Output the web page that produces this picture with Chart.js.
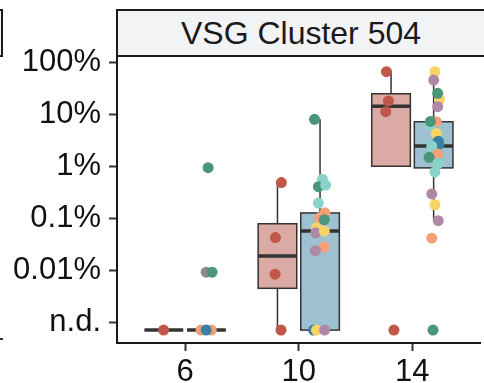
<!DOCTYPE html>
<html>
<head>
<meta charset="utf-8">
<script src="https://cdn.jsdelivr.net/npm/chart.js@4.4.1/dist/chart.umd.min.js"></script>
<style>
  html, body { margin: 0; padding: 0; background: #fff; overflow: hidden; }
  body { width: 484px; height: 383px; position: relative; font-family: "Liberation Sans", Arial, sans-serif; }
  #wrap { position: absolute; left: 0; top: 0; width: 486px; height: 383px; }
  .strip {
    position: absolute; left: 116px; top: 9px; width: 374px; height: 48px;
    box-sizing: border-box; border: 2px solid #1a1a1a; background: #f2f3f5;
    color: #1a1a1a; font-size: 32px; line-height: 44px; text-align: center;
    padding-right: 4px;
  }
  .strip-prev {
    position: absolute; left: -20px; top: 9px; width: 23px; height: 48px;
    box-sizing: border-box; border: 2px solid #1a1a1a; background: #f2f3f5;
  }
  .axis-prev { position: absolute; left: 0; top: 338px; width: 3px; height: 2px; background: #333; }
</style>
</head>
<body>
<div class="strip-prev"></div>
<div class="axis-prev"></div>
<div id="wrap"><canvas id="chart" width="486" height="383"></canvas></div>
<div class="strip">VSG Cluster 504</div>
<script>
const days = ['6', '10', '14'];
const yTickValues = [0.001, 0.01, 0.1, 1, 10, 100];
const yTickLabels = ['n.d.', '0.01%', '0.1%', '1%', '10%', '100%'];
const ND = 0.0007; // where undetected samples sit on the log axis

// box summaries per day (percent): whisker low, q1, median, q3, whisker high
const lowA = [ND, ND, null];
const q1A = [ND, 0.00445, 0.99];
const medA = [ND, 0.0186, 14.1];
const q3A = [ND, 0.0776, 24.5];
const highA = [ND, 0.48, 65];

const lowB = [ND, ND, 0.089];
const q1B = [ND, ND, 0.92];
const medB = [ND, 0.056, 2.43];
const q3B = [ND, 0.125, 7.1];
const highB = [ND, 7.9, 65];

// individual samples: [day index, jitter, value]
const pointsA = [
  [0, -0.19, ND],
  [1, -0.153, 0.48], [1, -0.205, 0.042], [1, -0.208, 0.0083], [1, -0.156, ND],
  [2, -0.228, 65], [2, -0.211, 17.8], [2, -0.234, 11.1], [2, -0.162, ND],
];

// [day index, jitter, value, colour]
const pointsB = [
  [0, 0.202, 0.93, 'green'], [0, 0.185, 0.0091, 'grey'], [0, 0.237, 0.0091, 'green'],
  [0, 0.14, ND, 'orange'], [0, 0.23, ND, 'orange'], [0, 0.185, ND, 'blue'],

  [1, 0.139, 7.9, 'green'], [1, 0.208, 0.555, 'teal'], [1, 0.173, 0.40, 'green'],
  [1, 0.237, 0.431, 'teal'], [1, 0.173, 0.194, 'teal'], [1, 0.231, 0.126, 'orange'],
  [1, 0.185, 0.101, 'orange'], [1, 0.225, 0.093, 'green'], [1, 0.156, 0.065, 'yellow'],
  [1, 0.15, 0.052, 'purple'], [1, 0.225, 0.056, 'yellow'], [1, 0.225, 0.0277, 'orange'],
  [1, 0.147, 0.0235, 'purple'],
  [1, 0.13, ND, 'blue'], [1, 0.156, ND, 'yellow'], [1, 0.228, ND, 'purple'],

  [2, 0.199, 65, 'yellow'], [2, 0.188, 45, 'purple'], [2, 0.24, 19.2, 'yellow'],
  [2, 0.223, 25, 'green'], [2, 0.223, 13.8, 'purple'], [2, 0.211, 7.1, 'orange'],
  [2, 0.153, 6.2, 'teal'], [2, 0.159, 7.2, 'green'], [2, 0.211, 4.2, 'yellow'],
  [2, 0.234, 2.6, 'blue'], [2, 0.228, 3.0, 'blue'], [2, 0.171, 2.4, 'teal'],
  [2, 0.223, 1.7, 'orange'], [2, 0.147, 1.47, 'green'], [2, 0.228, 1.13, 'teal'],
  [2, 0.199, 0.77, 'teal'], [2, 0.171, 0.29, 'purple'], [2, 0.199, 0.18, 'yellow'],
  [2, 0.228, 0.089, 'purple'], [2, 0.171, 0.041, 'orange'], [2, 0.182, ND, 'green'],
];

const palette = {
  red: '#c0574a', green: '#4a9679', teal: '#8ad3ca', orange: '#f4a077',
  yellow: '#f8d465', purple: '#ad89a6', blue: '#3b80a2', grey: '#8c8c8c',
};

const boxes = [
  { dodge: -0.1875, fill: '#dcaaa4', low: lowA, q1: q1A, med: medA, q3: q3A, high: highA },
  { dodge: 0.1875, fill: '#9dc1d0', low: lowB, q1: q1B, med: medB, q3: q3B, high: highB },
];
const boxHalf = 0.17;

const boxPlugin = {
  id: 'boxes',
  beforeDatasetsDraw(chart) {
    const { ctx, scales: { x, y } } = chart;
    const half = x.getPixelForValue(1 + boxHalf) - x.getPixelForValue(1);
    ctx.save();
    ctx.strokeStyle = '#333';
    boxes.forEach((b) => {
      days.forEach((d, i) => {
        const cx = x.getPixelForValue(i + 1 + b.dodge);
        const top = y.getPixelForValue(b.q3[i]);
        const bot = y.getPixelForValue(b.q1[i]);
        ctx.lineWidth = 1.5;
        ctx.beginPath();
        ctx.moveTo(cx, top);
        ctx.lineTo(cx, y.getPixelForValue(b.high[i]));
        if (b.low[i] !== null) {
          ctx.moveTo(cx, bot);
          ctx.lineTo(cx, y.getPixelForValue(b.low[i]));
        }
        ctx.stroke();
        ctx.fillStyle = b.fill;
        ctx.fillRect(cx - half, top, half * 2, bot - top);
        ctx.strokeRect(cx - half, top, half * 2, bot - top);
        const m = y.getPixelForValue(b.med[i]);
        ctx.lineWidth = 3.5;
        ctx.beginPath();
        ctx.moveTo(cx - half, m);
        ctx.lineTo(cx + half, m);
        ctx.stroke();
      });
    });
    ctx.restore();
  },
};

const tickFont = { family: '"Liberation Sans", Arial, sans-serif', size: 31 };

new Chart(document.getElementById('chart'), {
  type: 'scatter',
  data: {
    datasets: [
      {
        data: pointsA.map(([d, j, v]) => ({ x: d + 1 + j, y: v })),
        backgroundColor: palette.red,
        pointRadius: 5.5,
        borderWidth: 0,
      },
      {
        data: pointsB.map(([d, j, v]) => ({ x: d + 1 + j, y: v })),
        backgroundColor: pointsB.map((p) => palette[p[3]]),
        pointRadius: 5.5,
        borderWidth: 0,
      },
    ],
  },
  options: {
    responsive: false,
    animation: false,
    events: [],
    layout: { padding: { top: 57, left: 0, right: 0, bottom: 0 } },
    plugins: { legend: { display: false }, tooltip: { enabled: false } },
    scales: {
      x: {
        type: 'linear',
        min: 0.4,
        max: 3.6,
        afterBuildTicks: (s) => { s.ticks = days.map((d, i) => ({ value: i + 1 })); },
        afterFit: (s) => { s.height = 40; },
        ticks: {
          callback: (v) => days[v - 1],
          color: '#111',
          font: tickFont,
          padding: 3,
          maxRotation: 0,
        },
        grid: { drawOnChartArea: false, tickLength: 8, tickWidth: 2, tickColor: '#333' },
        border: { color: '#1a1a1a', width: 2 },
      },
      y: {
        type: 'logarithmic',
        min: 0.000395,
        max: 124.8,
        afterBuildTicks: (s) => { s.ticks = yTickValues.map((v) => ({ value: v })); },
        afterFit: (s) => { s.width = 117; },
        ticks: {
          callback: (v) => yTickLabels[yTickValues.indexOf(v)],
          color: '#111',
          font: tickFont,
          padding: 8,
        },
        grid: { drawOnChartArea: false, tickLength: 8, tickWidth: 2, tickColor: '#333' },
        border: { color: '#1a1a1a', width: 2 },
      },
    },
  },
  plugins: [boxPlugin],
});
</script>
</body>
</html>
